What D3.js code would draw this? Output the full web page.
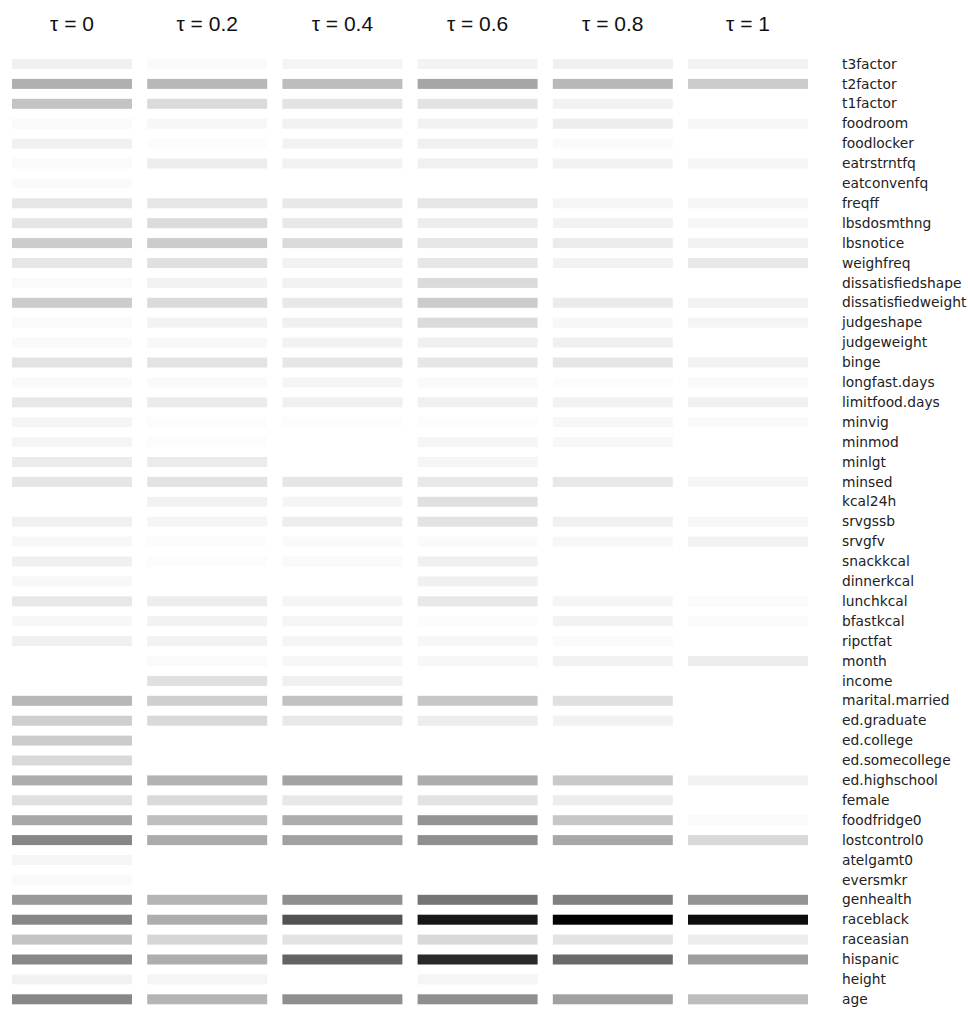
<!DOCTYPE html>
<html>
<head>
<meta charset="utf-8">
<script src="https://cdn.jsdelivr.net/npm/d3@7"></script>
<style>
  body { margin: 0; background: #fff; }
  svg { display: block; }
</style>
</head>
<body>
<div id="chart"></div>
<script>
// variable names, top to bottom
const variables = [
  "t3factor", "t2factor", "t1factor", "foodroom", "foodlocker", "eatrstrntfq",
  "eatconvenfq", "freqff", "lbsdosmthng", "lbsnotice", "weighfreq",
  "dissatisfiedshape", "dissatisfiedweight", "judgeshape", "judgeweight", "binge",
  "longfast.days", "limitfood.days", "minvig", "minmod", "minlgt", "minsed",
  "kcal24h", "srvgssb", "srvgfv", "snackkcal", "dinnerkcal", "lunchkcal",
  "bfastkcal", "ripctfat", "month", "income", "marital.married", "ed.graduate",
  "ed.college", "ed.somecollege", "ed.highschool", "female", "foodfridge0",
  "lostcontrol0", "atelgamt0", "eversmkr", "genhealth", "raceblack", "raceasian",
  "hispanic", "height", "age"
];

const tauLabels = ["τ = 0", "τ = 0.2", "τ = 0.4", "τ = 0.6", "τ = 0.8", "τ = 1"];

// shade intensity per variable (0 = white, 1 = black), one array per tau
const tau0 = [
  .06, .31, .23, .02, .06, .02, .02, .10, .10, .20, .10, .02, .20, .02, .02, .11,
  .02, .09, .04, .04, .08, .10, 0, .06, .03, .06, .03, .09, .03, .06, 0, 0,
  .28, .19, .20, .15, .32, .12, .34, .47, .04, .02, .40, .47, .23, .47, .05, .47
];
const tau02 = [
  .02, .28, .14, .03, .01, .07, 0, .10, .14, .20, .12, .05, .14, .05, .03, .11,
  .02, .08, .01, .01, .08, .11, .05, .04, .01, .01, 0, .07, .05, .05, .02, .12,
  .19, .15, 0, 0, .30, .15, .25, .33, 0, 0, .29, .32, .16, .32, .04, .29
];
const tau04 = [
  .04, .26, .11, .05, .05, .05, 0, .09, .09, .14, .05, .05, .09, .06, .05, .10,
  .04, .06, .01, 0, 0, .10, .04, .07, .02, .02, 0, .04, .04, .04, .03, .06,
  .24, .09, 0, 0, .36, .09, .32, .37, 0, 0, .44, .68, .11, .61, 0, .44
];
const tau06 = [
  .05, .35, .11, .05, .06, .06, 0, .10, .07, .10, .10, .14, .20, .14, .06, .10,
  .02, .06, .01, .04, .04, .09, .12, .11, .02, .06, .06, .09, .01, .03, .03, 0,
  .22, .07, 0, 0, .32, .11, .42, .44, 0, 0, .54, .91, .15, .84, .04, .44
];
const tau08 = [
  .06, .28, .05, .07, .02, .05, 0, .04, .05, .08, .05, 0, .08, .03, .06, .10,
  .01, .05, .03, .03, 0, .09, 0, .06, .03, 0, 0, .04, .05, .02, .05, 0,
  .12, .05, 0, 0, .21, .07, .22, .34, 0, 0, .50, 1.0, .11, .59, 0, .37
];
const tau1 = [
  .05, .20, 0, .03, 0, .04, 0, .04, .03, .05, .09, 0, .05, .04, 0, .05,
  .02, .06, .02, 0, 0, .04, 0, .03, .05, 0, 0, .02, .02, 0, .07, 0,
  0, 0, 0, 0, .05, 0, .02, .15, 0, 0, .42, .95, .07, .38, 0, .26
];

const series = [tau0, tau02, tau04, tau06, tau08, tau1];

const width = 968;
const height = 1009;

const svg = d3.select("#chart").append("svg")
  .attr("width", width)
  .attr("height", height);

// 6 columns, step ~135 px, bar width 120
let x = d3.scaleBand()
  .domain(tauLabels)
  .range([4.4, 815.6])
  .paddingInner(15.2 / 135.2)
  .paddingOuter(15.2 / 135.2 / 2);

// 48 rows, step ~19.9 px, bar height 10
let y = d3.scaleBand()
  .domain(variables)
  .range([54.05, 1009.25])
  .paddingInner(9.9 / 19.9)
  .paddingOuter(9.9 / 19.9 / 2);

let shade = d3.scaleLinear()
  .domain([0, 1])
  .range(["#ffffff", "#000000"]);

// flatten to cells
let cells = [];
series.forEach((vals, i) => {
  vals.forEach((v, j) => {
    cells.push({ tau: tauLabels[i], variable: variables[j], value: v });
  });
});

svg.append("g")
  .attr("class", "cells")
  .selectAll("rect")
  .data(cells.filter(d => d.value > 0))
  .enter().append("rect")
  .attr("x", d => x(d.tau))
  .attr("y", d => y(d.variable))
  .attr("width", x.bandwidth())
  .attr("height", y.bandwidth())
  .attr("fill", d => shade(d.value));

// column titles
svg.append("g")
  .attr("class", "titles")
  .selectAll("text")
  .data(tauLabels)
  .enter().append("text")
  .attr("x", d => x(d) + x.bandwidth() / 2)
  .attr("y", 31)
  .attr("text-anchor", "middle")
  .style("font-family", "'Liberation Sans', Arial, sans-serif")
  .style("font-size", "21px")
  .attr("fill", "#111")
  .text(d => d);

// row labels on the right
svg.append("g")
  .attr("class", "labels")
  .selectAll("text")
  .data(variables)
  .enter().append("text")
  .attr("x", 842)
  .attr("y", d => y(d) + y.bandwidth() / 2 + 4.6)
  .style("font-family", "'DejaVu Sans', sans-serif")
  .style("font-size", "13.8px")
  .attr("fill", "#222")
  .text(d => d);
</script>
</body>
</html>
